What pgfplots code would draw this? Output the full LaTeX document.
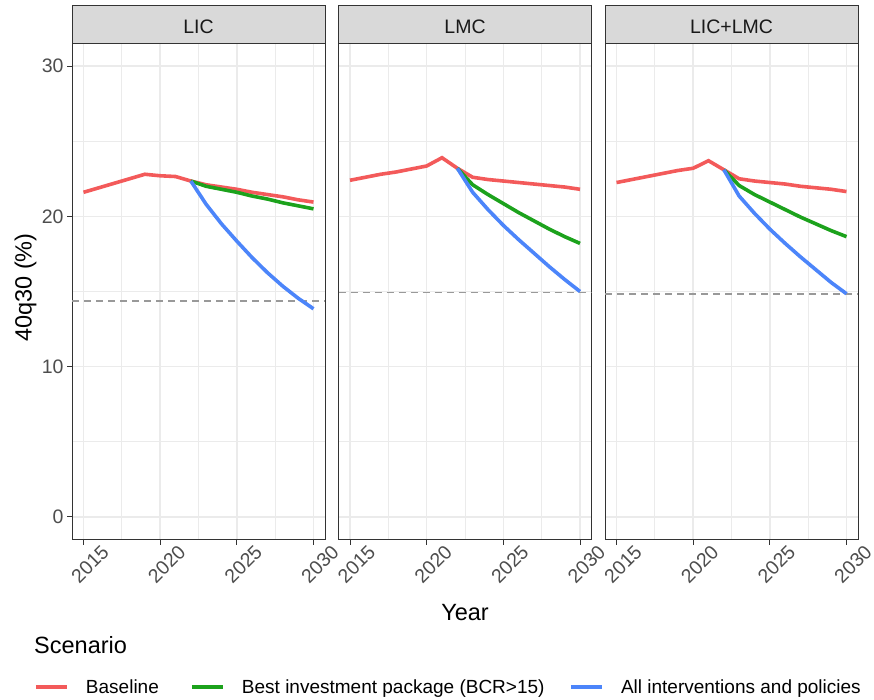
\documentclass[border=0pt]{standalone}
\usepackage{pgfplots}
\pgfplotsset{compat=1.18}
\usepackage{fontspec}
\setmainfont{Liberation Sans}
\definecolor{grey92}{HTML}{EBEBEB}
\definecolor{grey20}{HTML}{333333}
\definecolor{grey30}{HTML}{4D4D4D}
\definecolor{grey60}{HTML}{999999}
\definecolor{stripgrey}{HTML}{D9D9D9}
\definecolor{cbase}{HTML}{F35A5A}
\definecolor{cbest}{HTML}{1CA21C}
\definecolor{call}{HTML}{4C85FA}
\newcommand\tickfont{\fontsize{19.5pt}{20pt}\selectfont}
\newcommand\titlefont{\fontsize{23.5pt}{24pt}\selectfont}
\newcommand\legfont{\fontsize{19pt}{20pt}\selectfont}
\pgfplotsset{
  panel/.style={
    scale only axis, width=253pt, height=496pt, anchor=south west,
    xmin=2014.25, xmax=2030.75, ymin=-1.5, ymax=31.5,
    xtick={2015,2020,2025,2030}, minor xtick={2017.5,2022.5,2027.5},
    ytick={0,10,20,30}, minor ytick={5,15,25},
    grid=both,
    major grid style={color=grey92, line width=1.6pt},
    minor grid style={color=grey92, line width=0.9pt},
    axis line style={color=grey20, line width=1pt},
    tick align=outside, major tick length=5pt, minor tick length=0pt,
    tick style={color=grey20, line width=1pt},
    tick pos=left,
    /pgf/number format/assume math mode=true,
    /pgf/number format/1000 sep={},
    xticklabel style={font=\tickfont, text=grey30, anchor=center, xshift=6.5pt, yshift=-19.5pt, rotate=45},
    yticklabel style={font=\tickfont, text=grey30},
    legend image code/.code={\draw[#1, line width=3.6pt] (0pt,0pt) -- (31pt,0pt); \path (48pt,0pt);},
    legend style={draw=none, fill=none, inner sep=0pt, outer sep=0pt, anchor=west, font=\legfont},
  },
  base/.style={cbase, line width=3.6pt, forget plot},
  best/.style={cbest, line width=3.6pt, forget plot},
  allp/.style={call, line width=3.6pt, forget plot},
  tgt/.style={grey60, dash pattern=on 7pt off 5pt, line width=1.8pt, forget plot},
}
\begin{document}
\begin{tikzpicture}
\path[use as bounding box] (0pt,0pt) rectangle (874pt,-700pt);
% ---------------- LIC
\begin{axis}[panel, name=p1, at={(72pt,-539.5pt)},
  legend style={at={(-0.1502,-0.2974)}}]
\addplot[tgt] coordinates {(2014.25,14.35) (2030.75,14.35)};
\addplot[base] coordinates {(2015,21.6)(2016,21.9)(2017,22.2)(2018,22.5)(2019,22.8)(2020,22.7)(2021,22.65)(2022,22.35)(2023,22.1)(2024,21.95)(2025,21.8)(2026,21.6)(2027,21.45)(2028,21.3)(2029,21.1)(2030,20.95)};
\addplot[best] coordinates {(2022,22.35)(2023,22.0)(2024,21.8)(2025,21.6)(2026,21.35)(2027,21.15)(2028,20.9)(2029,20.7)(2030,20.5)};
\addplot[allp] coordinates {(2022,22.35)(2023,20.8)(2024,19.5)(2025,18.35)(2026,17.25)(2027,16.25)(2028,15.35)(2029,14.55)(2030,13.85)};
\addlegendimage{cbase}\addlegendentry{Baseline}
\end{axis}
% ---------------- LMC
\begin{axis}[panel, name=p2, at={(338.5pt,-539.5pt)}, yticklabels={}, ytick style={draw=none},
  legend style={at={(-0.5870,-0.2974)}}]
\addplot[tgt] coordinates {(2014.25,14.93) (2030.75,14.93)};
\addplot[base] coordinates {(2015,22.4)(2016,22.6)(2017,22.8)(2018,22.95)(2019,23.15)(2020,23.35)(2021,23.9)(2022,23.2)(2023,22.6)(2024,22.45)(2025,22.35)(2026,22.25)(2027,22.15)(2028,22.05)(2029,21.95)(2030,21.8)};
\addplot[best] coordinates {(2022,23.2)(2023,22.1)(2024,21.45)(2025,20.85)(2026,20.25)(2027,19.7)(2028,19.15)(2029,18.65)(2030,18.2)};
\addplot[allp] coordinates {(2022,23.2)(2023,21.6)(2024,20.45)(2025,19.4)(2026,18.45)(2027,17.55)(2028,16.65)(2029,15.8)(2030,15.0)};
\addlegendimage{cbest}\addlegendentry{Best investment package (BCR>15)}
\end{axis}
% ---------------- LIC+LMC
\begin{axis}[panel, name=p3, at={(605pt,-539.5pt)}, yticklabels={}, ytick style={draw=none},
  legend style={at={(-0.1423,-0.2974)}}]
\addplot[tgt] coordinates {(2014.25,14.85) (2030.75,14.85)};
\addplot[base] coordinates {(2015,22.25)(2016,22.45)(2017,22.65)(2018,22.85)(2019,23.05)(2020,23.2)(2021,23.7)(2022,23.1)(2023,22.5)(2024,22.35)(2025,22.25)(2026,22.15)(2027,22.0)(2028,21.9)(2029,21.8)(2030,21.65)};
\addplot[best] coordinates {(2022,23.1)(2023,22.05)(2024,21.45)(2025,20.95)(2026,20.45)(2027,19.95)(2028,19.5)(2029,19.05)(2030,18.65)};
\addplot[allp] coordinates {(2022,23.1)(2023,21.35)(2024,20.2)(2025,19.15)(2026,18.2)(2027,17.3)(2028,16.45)(2029,15.6)(2030,14.85)};
\addlegendimage{call}\addlegendentry{All interventions and policies}
\end{axis}
% strips
\foreach \p/\t in {p1/LIC, p2/LMC, p3/LIC+LMC}{
  \draw[fill=stripgrey, draw=grey20, line width=1pt] (\p.north west) rectangle ([yshift=37.5pt]\p.north east);
  \node[anchor=base, inner sep=0pt, text=black!90, font=\tickfont] at ([yshift=10.2pt]\p.north) {\t};
}
% titles
\node[rotate=90, anchor=base, inner sep=0pt, font=\titlefont] at (31.7pt,-287.5pt) {40q30 (\%)};
\node[anchor=base, inner sep=0pt, font=\titlefont] at (465pt,-620pt) {Year};
\node[anchor=base west, inner sep=0pt, font=\titlefont] at (34pt,-653.3pt) {Scenario};
\end{tikzpicture}
\end{document}
